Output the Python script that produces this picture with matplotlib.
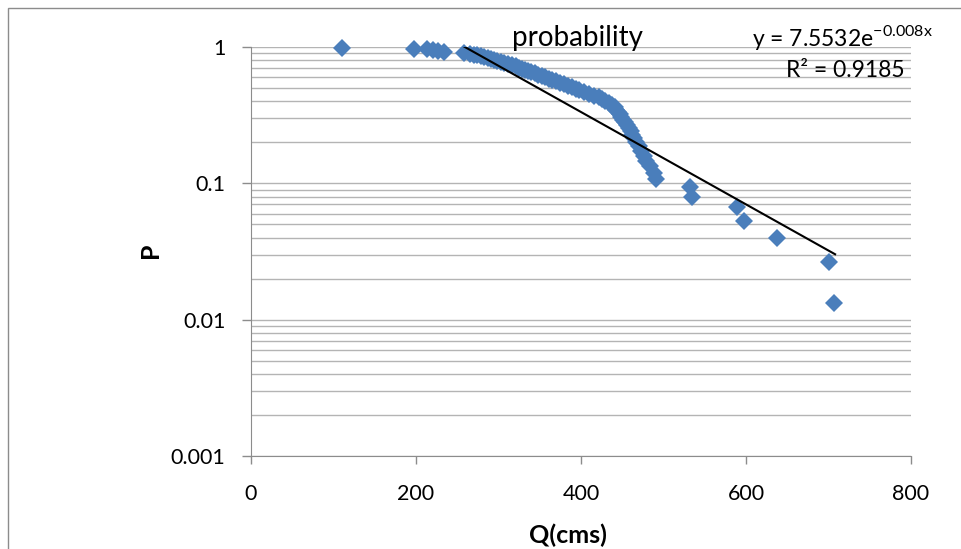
import numpy as np
import matplotlib

matplotlib.use("Agg")
import matplotlib.pyplot as plt
from matplotlib.patches import Rectangle

# annual peak flows (cms) and exceedance probability
q_cms = [
    110, 198, 213, 221, 227, 234,
    258, 265, 270, 274, 279, 282, 287, 291, 295, 298,
    303, 307, 312, 316, 321, 325, 328, 332, 336, 339,
    344, 348, 353, 356, 361, 365, 370, 375, 379, 384,
    389, 394, 398, 404, 410, 416, 422, 425, 429, 434,
    438, 441, 443, 445, 447, 449, 451, 453, 456, 458,
    460, 462, 464, 467, 470, 473, 476, 479, 484, 488,
    491, 532, 535, 589, 598, 637, 700, 707,
]
p_exc = [
    0.9867, 0.9733, 0.96, 0.9467, 0.9333, 0.92,
    0.9067, 0.8933, 0.88, 0.8667, 0.8533, 0.84, 0.8267, 0.8133, 0.80, 0.7867,
    0.7733, 0.76, 0.7467, 0.7333, 0.72, 0.7067, 0.6933, 0.68, 0.6667, 0.6533,
    0.64, 0.6267, 0.6133, 0.60, 0.5867, 0.5733, 0.56, 0.5467, 0.5333, 0.52,
    0.5067, 0.4933, 0.48, 0.4667, 0.4533, 0.44, 0.4267, 0.4133, 0.40, 0.3867,
    0.3733, 0.36, 0.3467, 0.3333, 0.32, 0.3067, 0.2933, 0.28, 0.2667, 0.2533,
    0.24, 0.2267, 0.2133, 0.20, 0.1867, 0.1733, 0.16, 0.1467, 0.1333, 0.12,
    0.1067, 0.0933, 0.08, 0.0667, 0.0533, 0.04, 0.0267, 0.0133,
]

# exponential trendline y = a*exp(b*x) shown from first to last fitted point
trend_a = 7.5532
trend_b = -0.0078
trend_range = [258, 708]

y_ticks = [0.001, 0.01, 0.1, 1]
y_labels = ["0.001", "0.01", "0.1", "1"]
x_ticks = [0, 200, 400, 600, 800]

plt.rcParams["font.family"] = ["Lato", "DejaVu Sans"]

W, H = 961, 549
fig = plt.figure(figsize=(W / 100, H / 100), dpi=100)

# chart border
fig.patches.append(Rectangle((8 / W, -0.1), 1.2, 1 - 8 / H + 0.1,
                             transform=fig.transFigure, fill=False,
                             edgecolor="#8c8c8c", linewidth=1.0))

left, right, top, bottom = 251, 911, 47, 456
ax = fig.add_axes([left / W, 1 - bottom / H, (right - left) / W, (bottom - top) / H])

ax.set_yscale("log")
ax.set_ylim(0.001, 1)
ax.set_xlim(0, 800)

# gridlines (major + minor) on y only
ax.yaxis.grid(True, which="both", color="#b4b4b4", linewidth=1.0)
ax.set_axisbelow(True)

xt = np.linspace(trend_range[0], trend_range[1], 50)
ax.plot(xt, trend_a * np.exp(trend_b * xt), color="black", linewidth=1.5, zorder=3)

ax.plot(q_cms, p_exc, linestyle="none", marker="D", markersize=9.5,
        color="#4a7ebb", markeredgewidth=0, zorder=2, clip_on=False)

ax.set_yticks(y_ticks)
ax.set_yticklabels(y_labels)
ax.set_xticks(x_ticks)
ax.tick_params(axis="y", which="minor", length=0)
ax.tick_params(axis="y", which="major", length=6.5, width=1, color="#8c8c8c",
               pad=12, labelsize=15.5)
ax.tick_params(axis="x", which="major", length=6, width=1, color="#8c8c8c",
               pad=14, labelsize=15.5)

for side in ["top", "right"]:
    ax.spines[side].set_visible(False)
for side in ["left", "bottom"]:
    ax.spines[side].set_color("#8c8c8c")

fig.text(577 / W, 1 - 38 / H, "probability", fontsize=20, ha="center", va="center")
fig.text(933 / W, 1 - 37 / H, r"y = 7.5532e$^{\mathregular{-0.008x}}$", fontsize=16.5,
         ha="right", va="center")
fig.text(905 / W, 1 - 70 / H, "R² = 0.9185", fontsize=16.5, ha="right", va="center")

fig.text(150 / W, 1 - 250 / H, "P", fontsize=18, fontweight="bold",
         rotation=90, ha="center", va="center")
fig.text(568 / W, 1 - 535 / H, "Q(cms)", fontsize=18, fontweight="bold",
         ha="center", va="center")

fig.savefig("out.png", dpi=100)
plt.close(fig)
